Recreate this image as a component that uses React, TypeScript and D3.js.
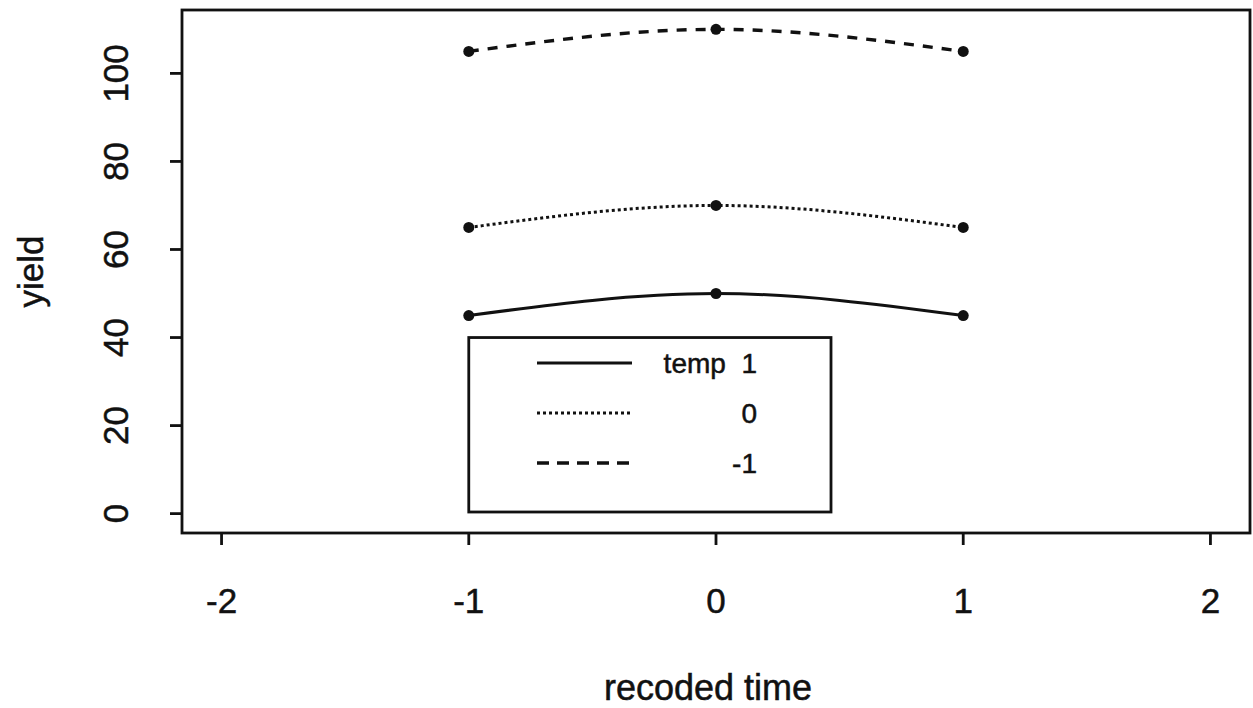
import React from "react";
import * as d3 from "d3";

const times = [-1, 0, 1];
const yieldTemp1 = [45, 50, 45];
const yieldTemp0 = [65, 70, 65];
const yieldTempM1 = [105, 110, 105];
const xTicks = [-2, -1, 0, 1, 2];
const yTicks = [0, 20, 40, 60, 80, 100];
const legendLabels = ["temp  1", "0", "-1"];

const W = 1253;
const H = 708;
const left = 182, right = 1250, top = 10, bottom = 533;
const FONT = "'Liberation Sans', Arial, Helvetica, sans-serif";
const INK = "#111";

const series = [
  { values: yieldTemp1, dash: "none", legDash: "none", width: 3 },
  { values: yieldTemp0, dash: "3,3", legDash: "3,3", width: 3 },
  { values: yieldTempM1, dash: "10,9", legDash: "12,8", width: 3.4 },
];

const textStyle = { stroke: INK, strokeWidth: 0.5 };

export default function App() {
  const x = d3.scaleLinear().domain([-2.16, 2.16]).range([left, right]);
  const y = d3.scaleLinear().domain([-4.4, 114.4]).range([bottom, top]);
  const line = d3
    .line<number>()
    .x((_, i) => x(times[i]))
    .y((v) => y(v))
    .curve(d3.curveNatural);

  const legX0 = x(-1);
  const legY0 = y(40);
  const legX1 = 831;
  const legY1 = 512;
  const rowY = [363, 413, 463];

  return (
    <svg
      width={W}
      height={H}
      style={{ position: "absolute", left: 0, top: 0, background: "#fff" }}
      fontFamily={FONT}
    >
      <rect x={0} y={0} width={W} height={H} fill="#fff" />
      <rect
        x={left}
        y={top}
        width={right - left}
        height={bottom - top}
        fill="none"
        stroke={INK}
        strokeWidth={2.8}
      />
      {xTicks.map((t) => (
        <g key={"xt" + t}>
          <line x1={x(t)} x2={x(t)} y1={bottom} y2={bottom + 12} stroke={INK} strokeWidth={2.8} />
          <text x={x(t)} y={613} textAnchor="middle" fontSize={35} fill={INK} style={textStyle}>
            {t}
          </text>
        </g>
      ))}
      {yTicks.map((t) => (
        <g key={"yt" + t}>
          <line x1={left - 12} x2={left} y1={y(t)} y2={y(t)} stroke={INK} strokeWidth={2.8} />
          <text
            transform={`translate(128,${y(t)}) rotate(-90)`}
            textAnchor="middle"
            fontSize={35}
            fill={INK}
            style={textStyle}
          >
            {t}
          </text>
        </g>
      ))}
      <text x={708} y={700} textAnchor="middle" fontSize={36} fill={INK} style={textStyle}>
        recoded time
      </text>
      <text
        transform={`translate(43,${(top + bottom) / 2}) rotate(-90)`}
        textAnchor="middle"
        fontSize={35}
        fill={INK}
        style={textStyle}
      >
        yield
      </text>
      {series.map((s, k) => (
        <g key={"s" + k}>
          <path
            d={line(s.values) || ""}
            fill="none"
            stroke={INK}
            strokeWidth={s.width}
            strokeDasharray={s.dash}
          />
          {s.values.map((v, i) => (
            <circle key={i} cx={x(times[i])} cy={y(v)} r={5.5} fill={INK} />
          ))}
        </g>
      ))}
      <rect
        x={legX0}
        y={legY0}
        width={legX1 - legX0}
        height={legY1 - legY0}
        fill="#fff"
        stroke={INK}
        strokeWidth={2.8}
      />
      {series.map((s, k) => (
        <g key={"l" + k}>
          <line
            x1={537}
            x2={632}
            y1={rowY[k]}
            y2={rowY[k]}
            stroke={INK}
            strokeWidth={s.width}
            strokeDasharray={s.legDash}
          />
          <text
            x={757}
            y={rowY[k] + 10}
            textAnchor="end"
            fontSize={28}
            fill={INK}
            style={{ ...textStyle, whiteSpace: "pre" }}
          >
            {legendLabels[k]}
          </text>
        </g>
      ))}
    </svg>
  );
}
